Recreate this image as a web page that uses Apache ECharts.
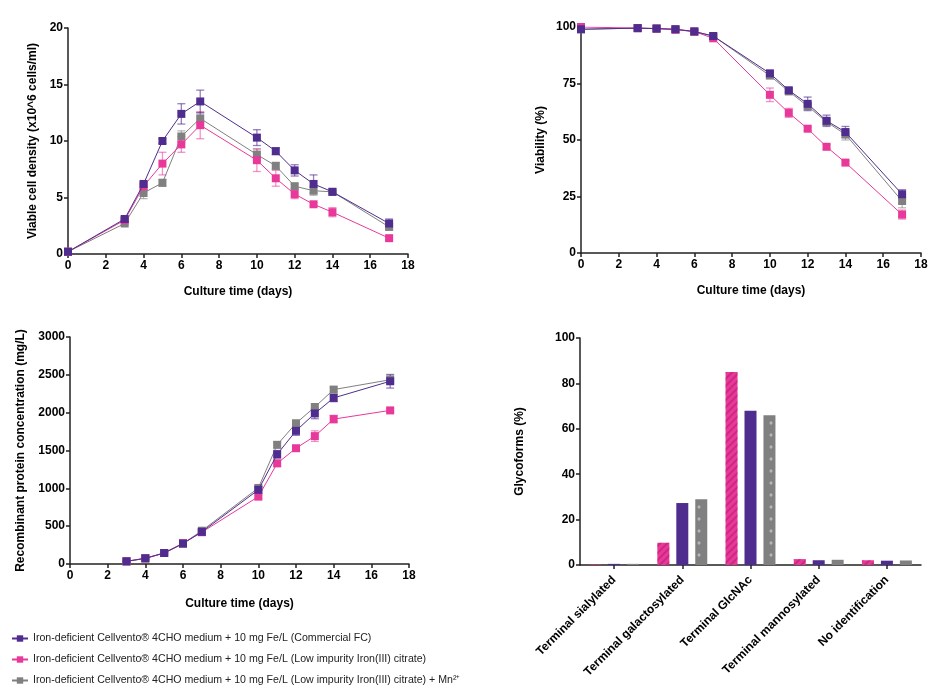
<!DOCTYPE html>
<html><head><meta charset="utf-8">
<script src="https://cdn.jsdelivr.net/npm/echarts@6/dist/echarts.min.js"></script>
<style>html,body{margin:0;padding:0;background:#fff}#c{width:950px;height:700px}</style>
</head><body><div id="c"></div>
<script>
const NAMES = [
  'Iron-deficient Cellvento\u00AE 4CHO medium + 10 mg Fe/L (Commercial FC)',
  'Iron-deficient Cellvento\u00AE 4CHO medium + 10 mg Fe/L (Low impurity Iron(III) citrate)',
  'Iron-deficient Cellvento\u00AE 4CHO medium + 10 mg Fe/L (Low impurity Iron(III) citrate) + Mn\u00B2\u207A'
];
const COLORS = ['#4f2d8f', '#e8399a', '#808080'];
const ERRCOLORS = ['rgba(79,45,143,0.6)', 'rgba(232,57,154,0.55)', 'rgba(128,128,128,0.55)'];

// Viable cell density (x10^6 cells/ml)
const days = [0, 3, 4, 5, 6, 7, 10, 11, 12, 13, 14, 17];
const vcdFC    = [0.2, 3.1, 6.2, 10.0, 12.4, 13.5, 10.3, 9.1, 7.4, 6.2, 5.5, 2.7];
const vcdLI    = [0.2, 3.0, 6.0, 8.0, 9.7, 11.4, 8.3, 6.7, 5.3, 4.4, 3.7, 1.4];
const vcdMn    = [0.2, 2.7, 5.4, 6.3, 10.4, 12.0, 8.8, 7.8, 6.0, 5.6, 5.5, 2.4];
const vcdErrFC = [0.05, 0.1, 0.2, 0.2, 0.9, 1.0, 0.7, 0.3, 0.5, 0.8, 0.1, 0.4];
const vcdErrLI = [0.05, 0.1, 0.2, 1.0, 0.7, 1.2, 1.0, 0.7, 0.4, 0.15, 0.4, 0.15];
const vcdErrMn = [0.05, 0.1, 0.5, 0.3, 0.5, 0.5, 0.5, 0.3, 0.2, 0.4, 0.1, 0.3];

// Viability (%)
const viaFC    = [99.0, 99.5, 99.3, 99.0, 98.0, 96.0, 79.5, 72.0, 66.0, 58.5, 53.5, 26.0];
const viaLI    = [100.0, 99.5, 99.3, 98.8, 98.0, 95.0, 70.0, 62.0, 55.0, 47.0, 40.0, 17.0];
const viaMn    = [99.0, 99.5, 99.3, 99.0, 98.0, 96.0, 78.5, 71.5, 65.0, 58.0, 52.5, 23.0];
const viaErrFC = [0.3, 0.3, 0.3, 0.5, 0.5, 0.8, 1.0, 0.8, 3.0, 2.5, 2.5, 2.0];
const viaErrLI = [0.3, 0.3, 0.3, 0.5, 0.5, 0.8, 3.0, 2.0, 0.8, 1.0, 0.8, 2.0];
const viaErrMn = [0.3, 0.3, 0.3, 0.5, 0.5, 0.8, 1.0, 0.8, 1.5, 1.5, 2.5, 3.0];

// Recombinant protein concentration (mg/L)
const pDays    = [3, 4, 5, 6, 7, 10, 11, 12, 13, 14, 17];
const protFC   = [35, 75, 145, 270, 425, 980, 1450, 1760, 1990, 2195, 2415];
const protLI   = [35, 75, 145, 275, 420, 890, 1330, 1530, 1690, 1915, 2030];
const protMn   = [35, 75, 145, 270, 440, 1005, 1575, 1860, 2075, 2305, 2435];
const protErrFC = [5, 10, 10, 15, 20, 40, 50, 60, 70, 50, 90];
const protErrLI = [5, 10, 10, 15, 20, 20, 40, 30, 70, 50, 20];
const protErrMn = [5, 10, 10, 15, 20, 30, 40, 30, 30, 30, 60];

// Glycoforms (%)
const glyCats = ['Terminal sialylated', 'Terminal galactosylated', 'Terminal GlcNAc', 'Terminal mannosylated', 'No identification'];
const glyFC = [0.5, 27.3, 68.0, 2.1, 1.9];
const glyLI = [0.2, 9.8, 85.0, 2.6, 2.1];
const glyMn = [0.5, 29.0, 66.0, 2.3, 2.0];

const FONT = 'Liberation Sans, Arial, sans-serif';
const labelStyle = { color: '#000', fontWeight: 'bold', fontSize: 12, fontFamily: FONT };
const nameStyle = { color: '#000', fontWeight: 'bold', fontSize: 12, fontFamily: FONT };
const axisLine = { show: true, lineStyle: { color: '#222', width: 1.5 } };
const axisTick = { show: true, length: 4, lineStyle: { color: '#222', width: 1.5 } };
const plain = v => String(v);

function xVal(gi, nameGap) {
  return { type: 'value', gridIndex: gi, min: 0, max: 18, interval: 2,
    name: 'Culture time (days)', nameLocation: 'middle', nameGap: nameGap, nameTextStyle: nameStyle,
    axisLine, axisTick, axisLabel: Object.assign({ margin: 6, formatter: plain }, labelStyle), splitLine: { show: false } };
}
function yVal(gi, name, max, interval, nameGap) {
  return { type: 'value', gridIndex: gi, min: 0, max: max, interval: interval,
    name: name, nameLocation: 'middle', nameGap: nameGap, nameTextStyle: nameStyle,
    axisLine, axisTick, axisLabel: Object.assign({ margin: 5, formatter: plain }, labelStyle), splitLine: { show: false } };
}

function lineSeries(idx, gi, xs, ys) {
  return { type: 'line', name: NAMES[idx], xAxisIndex: gi, yAxisIndex: gi,
    data: xs.map((x, i) => [x, ys[i]]), symbol: 'rect', symbolSize: 8,
    lineStyle: { color: COLORS[idx], width: 1 }, itemStyle: { color: COLORS[idx] },
    z: 3 + (idx === 0 ? 2 : idx === 1 ? 1 : 0), animation: false };
}
function errSeries(idx, gi, xs, ys, es) {
  return { type: 'custom', name: NAMES[idx], xAxisIndex: gi, yAxisIndex: gi,
    data: xs.map((x, i) => [x, ys[i] - es[i], ys[i] + es[i]]),
    renderItem: function (params, api) {
      const x = api.value(0);
      const lo = api.coord([x, api.value(1)]);
      const hi = api.coord([x, api.value(2)]);
      const w = 4;
      const st = { stroke: ERRCOLORS[idx], lineWidth: 1.3 };
      return { type: 'group', children: [
        { type: 'line', shape: { x1: hi[0], y1: hi[1], x2: lo[0], y2: lo[1] }, style: st },
        { type: 'line', shape: { x1: hi[0] - w, y1: hi[1], x2: hi[0] + w, y2: hi[1] }, style: st },
        { type: 'line', shape: { x1: lo[0] - w, y1: lo[1], x2: lo[0] + w, y2: lo[1] }, style: st }
      ] };
    }, z: 2, animation: false, silent: true };
}

const series = [];
// order of drawing: gray, pink, purple
[[2, vcdMn, vcdErrMn, viaMn, viaErrMn, protMn, protErrMn],
 [1, vcdLI, vcdErrLI, viaLI, viaErrLI, protLI, protErrLI],
 [0, vcdFC, vcdErrFC, viaFC, viaErrFC, protFC, protErrFC]].forEach(r => {
  const [idx, v, ve, a, ae, p, pe] = r;
  series.push(lineSeries(idx, 0, days, v));
  series.push(lineSeries(idx, 1, days, a));
  series.push(lineSeries(idx, 2, pDays, p));
  series.push(errSeries(idx, 0, days, v, ve));
  series.push(errSeries(idx, 1, days, a, ae));
  series.push(errSeries(idx, 2, pDays, p, pe));
});

const plusPath = 'path://M4,0H6V4H10V6H6V10H4V6H0V4H4Z';
const barDefs = [
  { idx: 1, data: glyLI, decal: { symbol: 'rect', symbolSize: 1, dashArrayX: [1, 0], dashArrayY: [1.5, 3], rotation: -Math.PI / 4, color: 'rgba(170,20,100,0.45)' } },
  { idx: 0, data: glyFC, decal: null },
  { idx: 2, data: glyMn, decal: { symbol: plusPath, symbolSize: 0.6, dashArrayX: [[6, 6]], dashArrayY: [6, 6], color: 'rgba(255,255,255,0.8)' } }
];
barDefs.forEach((b, k) => {
  const s = { type: 'bar', name: NAMES[b.idx], xAxisIndex: 3, yAxisIndex: 3, data: b.data,
    barWidth: 12, barGap: '58%', itemStyle: { color: COLORS[b.idx] }, animation: false };
  if (b.decal) s.itemStyle.decal = b.decal;
  series.push(s);
});

const option = {
  backgroundColor: '#fff',
  textStyle: { fontFamily: FONT },
  legend: {
    data: NAMES, orient: 'vertical', left: 6, top: 628, itemWidth: 16, itemHeight: 8, itemGap: 10,
    textStyle: { color: '#222', fontSize: 10.6, fontFamily: FONT }, selectedMode: false
  },
  grid: [
    { left: 68, top: 28, width: 340, height: 226 },
    { left: 581, top: 27, width: 340, height: 226 },
    { left: 70, top: 337, width: 339, height: 227 },
    { left: 580, top: 338, width: 341, height: 227 }
  ],
  xAxis: [
    xVal(0, 32), xVal(1, 32), xVal(2, 34),
    { type: 'category', gridIndex: 3, data: glyCats, axisLine, axisTick: Object.assign({ alignWithLabel: true }, axisTick),
      axisLabel: Object.assign({ rotate: 45, margin: 13, interval: 0 }, labelStyle) }
  ],
  yAxis: [
    yVal(0, 'Viable cell density (x10^6 cells/ml)', 20, 5, 29),
    yVal(1, 'Viability (%)', 100, 25, 34),
    yVal(2, 'Recombinant protein concentration (mg/L)', 3000, 500, 43),
    yVal(3, 'Glycoforms (%)', 100, 20, 54)
  ],
  series: series
};
const chart = echarts.init(document.getElementById('c'));
chart.setOption(option);
</script></body></html>
